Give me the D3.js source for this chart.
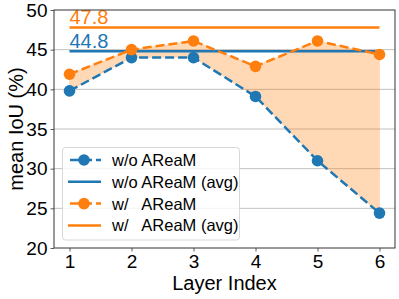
<!DOCTYPE html>
<html>
<head>
<meta charset="utf-8">
<script src="https://cdn.jsdelivr.net/npm/d3@7"></script>
<style>
  body { margin: 0; background: #fff; }
  text { font-family: "Liberation Sans", Arial, sans-serif; }
</style>
</head>
<body>
<svg id="chart" width="399" height="299"></svg>
<script>
// data
var layers = [1, 2, 3, 4, 5, 6];
var withoutAream = [39.8, 44.0, 44.0, 39.1, 31.0, 24.4];
var withAream = [41.9, 45.0, 46.1, 42.9, 46.1, 44.4];
var avgWithout = 44.8;
var avgWith = 47.8;
var yTicks = [20, 25, 30, 35, 40, 45, 50];
var legendLabels = ["w/o AReaM", "w/o AReaM (avg)", "w/   AReaM", "w/   AReaM (avg)"];

var blue = "#1f77b4", orange = "#ff7f0e";

var svg = d3.select("#chart");
var m = { left: 54, right: 395, top: 10, bottom: 248 };

var x = d3.scaleLinear().domain([0.75, 6.25]).range([m.left, m.right]);
var y = d3.scaleLinear().domain([20, 50]).range([m.bottom, m.top]);

// grid
svg.append("g").selectAll("line")
    .data(yTicks.slice(1, -1))
    .enter().append("line")
    .attr("x1", m.left).attr("x2", m.right)
    .attr("y1", function (d) { return y(d); })
    .attr("y2", function (d) { return y(d); })
    .attr("stroke", "#b0b0b0").attr("stroke-width", 0.8);

// fill between the two series
var area = d3.area()
    .x(function (d, i) { return x(layers[i]); })
    .y0(function (d, i) { return y(withoutAream[i]); })
    .y1(function (d) { return y(d); });
svg.append("path")
    .datum(withAream)
    .attr("d", area)
    .attr("fill", orange).attr("fill-opacity", 0.3)
    .attr("stroke", orange).attr("stroke-opacity", 0.15).attr("stroke-width", 1);

// average lines
function avgLine(v, color) {
    svg.append("line")
        .attr("x1", x(1)).attr("x2", x(6))
        .attr("y1", y(v)).attr("y2", y(v))
        .attr("stroke", color).attr("stroke-width", 2.5);
    svg.append("text")
        .attr("x", x(1)).attr("y", y(v) - 3.5)
        .attr("fill", color).attr("font-size", 20)
        .text(v.toFixed(1));
}
avgLine(avgWithout, blue);
avgLine(avgWith, orange);

// dashed series with markers
function series(vals, color) {
    var line = d3.line()
        .x(function (d, i) { return x(layers[i]); })
        .y(function (d) { return y(d); });
    svg.append("path")
        .datum(vals)
        .attr("d", line)
        .attr("fill", "none").attr("stroke", color)
        .attr("stroke-width", 2.5).attr("stroke-dasharray", "9,4");
    svg.append("g").selectAll("circle")
        .data(vals)
        .enter().append("circle")
        .attr("cx", function (d, i) { return x(layers[i]); })
        .attr("cy", function (d) { return y(d); })
        .attr("r", 5.8)
        .attr("fill", color);
}
series(withoutAream, blue);
series(withAream, orange);

// axes
var yAxis = svg.append("g")
    .attr("transform", "translate(" + m.left + ",0)")
    .call(d3.axisLeft(y).tickValues(yTicks).tickFormat(d3.format("d")).tickSize(3.5).tickPadding(3));
var xAxis = svg.append("g")
    .attr("transform", "translate(0," + m.bottom + ")")
    .call(d3.axisBottom(x).tickValues(layers).tickFormat(d3.format("d")).tickSize(3.5).tickPadding(3));
[xAxis, yAxis].forEach(function (a) {
    a.select(".domain").remove();
    a.selectAll("text").attr("font-size", 19).attr("fill", "#000")
        .style("font-family", "Liberation Sans, Arial, sans-serif");
    a.selectAll("line").attr("stroke", "#333").attr("stroke-width", 0.8);
});

svg.append("rect")
    .attr("x", m.left).attr("y", m.top)
    .attr("width", m.right - m.left).attr("height", m.bottom - m.top)
    .attr("fill", "none").attr("stroke", "#333").attr("stroke-width", 1);

svg.append("text")
    .attr("x", (m.left + m.right) / 2).attr("y", 290)
    .attr("text-anchor", "middle").attr("font-size", 20)
    .text("Layer Index");
svg.append("text")
    .attr("transform", "translate(23," + ((m.top + m.bottom) / 2) + ") rotate(-90)")
    .attr("text-anchor", "middle").attr("font-size", 20)
    .text("mean IoU (%)");

// legend
var lg = svg.append("g");
lg.append("rect")
    .attr("x", 62.5).attr("y", 147.5).attr("width", 177).attr("height", 92.5)
    .attr("rx", 3).attr("fill", "#fff").attr("fill-opacity", 0.8)
    .attr("stroke", "#d8d8d8").attr("stroke-width", 1);
var legendColors = [blue, blue, orange, orange];
legendLabels.forEach(function (label, i) {
    var cy = 160 + i * 21.8;
    var ln = lg.append("line")
        .attr("x1", 68).attr("x2", 101).attr("y1", cy).attr("y2", cy)
        .attr("stroke", legendColors[i]).attr("stroke-width", 2.5);
    if (i % 2 == 0) {
        ln.attr("stroke-dasharray", "9,4").attr("stroke-dashoffset", -2);
        lg.append("circle").attr("cx", 84).attr("cy", cy).attr("r", 5.8)
            .attr("fill", legendColors[i]);
    }
    lg.append("text")
        .attr("x", 112).attr("y", cy + 6)
        .attr("font-size", 16.5)
        .style("white-space", "pre")
        .attr("xml:space", "preserve")
        .text(label);
});
</script>
</body>
</html>
